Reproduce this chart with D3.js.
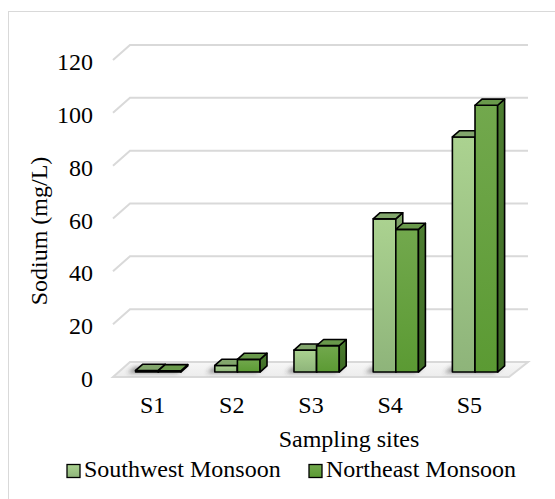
<!DOCTYPE html>
<html>
<head>
<meta charset="utf-8">
<script src="https://cdn.jsdelivr.net/npm/d3@7"></script>
</head>
<body style="margin:0">
<svg id="chart" width="555" height="499"></svg>
<script>
// Sodium concentration per sampling site, two monsoon seasons
const sites = ["S1", "S2", "S3", "S4", "S5"];
const seriesNames = ["Southwest Monsoon", "Northeast Monsoon"];
const southwest = [0.6, 2.5, 8.3, 58, 89];
const northeast = [0.5, 4.8, 10, 54, 101];
const yTicks = [0, 20, 40, 60, 80, 100, 120];
const seriesValues = [southwest, northeast];

const FONT = "'Liberation Serif', 'Times New Roman', serif";
const FS = 24;
const svg = d3.select("#chart").style("display", "block");

// serif text helper
function txt(sel) {
  return sel.style("font-family", FONT, "important").style("font-size", FS + "px").attr("fill", "#000");
}

// outer frame
svg.append("rect").attr("x", 8.5).attr("y", 11.5).attr("width", 560).attr("height", 500)
  .attr("fill", "#fff").attr("stroke", "#d9d9d9").attr("stroke-width", 1);

// oblique 3D geometry: floor front edge and depth vector
const floorFrontY = 377;
const depth = { dx: 17, dy: -15 };
const barDepthStart = 0.33, barDepthEnd = 0.74;

const x = d3.scaleBand().domain(sites).range([113, 509]).paddingInner(0).paddingOuter(0);
const xs = d3.scaleBand().domain(seriesNames).range([0, x.bandwidth()]).paddingInner(0).paddingOuter(0.75);
// value scale measured at the front plane of the floor
const y = d3.scaleLinear().domain([0, 120]).range([floorFrontY, floorFrontY - 317]);

const defs = svg.append("defs");
function vGrad(id, top, bottom) {
  const g = defs.append("linearGradient").attr("id", id).attr("x1", 0).attr("y1", 0).attr("x2", 0).attr("y2", 1);
  g.append("stop").attr("offset", "0%").attr("stop-color", top);
  g.append("stop").attr("offset", "100%").attr("stop-color", bottom);
}
vGrad("swFront", "#abd290", "#8eb47a");
vGrad("neFront", "#72a84d", "#5b9a33");
vGrad("swSide", "#7fa468", "#6a8e56");
vGrad("neSide", "#4c7d30", "#3d6a24");
vGrad("floorFill", "#f7f7f7", "#ececec");
const blur = defs.append("filter").attr("id", "shadowBlur").attr("x", "-50%").attr("y", "-50%").attr("width", "200%").attr("height", "200%");
blur.append("feGaussianBlur").attr("stdDeviation", 2.2);

const styles = [
  { front: "url(#swFront)", top: "#82a66c", side: "url(#swSide)", legend: "url(#swFront)" },
  { front: "url(#neFront)", top: "#69994b", side: "url(#neSide)", legend: "url(#neFront)" }
];

const xLeft = 113, xRight = 509;
const line = d3.line();

// gridlines: diagonal on the side wall, then along the back wall
const grid = svg.append("g");
yTicks.filter(t => t > 0).forEach(t => {
  const fy = y(t);
  grid.append("path")
    .attr("d", line([[xLeft, fy], [xLeft + depth.dx, fy + depth.dy], [xRight + depth.dx + 2, fy + depth.dy]]))
    .attr("fill", "none").attr("stroke", "#d9d9d9").attr("stroke-width", 2);
});

// floor
svg.append("path")
  .attr("d", line([[xLeft, y(0)], [xRight, y(0)], [xRight + depth.dx + 2, y(0) + depth.dy], [xLeft + depth.dx, y(0) + depth.dy]]) + "Z")
  .attr("fill", "url(#floorFill)").attr("stroke", "#d9d9d9").attr("stroke-width", 2);

// y tick labels
txt(svg.append("g").selectAll("text").data(yTicks).join("text")
  .attr("x", 93).attr("y", d => y(d) + 10)
  .attr("text-anchor", "end"))
  .text(d => d);

// bars
const ox0 = depth.dx * barDepthStart, oy0 = depth.dy * barDepthStart;
const bdx = depth.dx * (barDepthEnd - barDepthStart), bdy = depth.dy * (barDepthEnd - barDepthStart);

const barData = [];
sites.forEach((s, i) => {
  seriesNames.forEach((n, j) => barData.push({ site: s, series: n, si: j, value: seriesValues[j][i] }));
});

// soft shadows under the bars
const shadows = svg.append("g").attr("filter", "url(#shadowBlur)");
sites.forEach(s => {
  const x0 = x(s) + xs(seriesNames[0]) + ox0;
  const x1 = x(s) + xs(seriesNames[1]) + xs.bandwidth() + ox0;
  const yb = y(0) + oy0;
  shadows.append("path")
    .attr("d", line([[x0 - 8, yb + 1], [x1 - 4, yb + 1], [x1 + bdx - 2, yb + bdy + 1], [x0 + bdx - 8, yb + bdy + 1]]) + "Z")
    .attr("fill", "#404040").attr("opacity", 0.55);
});

const bars = svg.append("g");
barData.forEach(d => {
  const st = styles[d.si];
  const xl = x(d.site) + xs(d.series) + ox0;
  const xr = xl + xs.bandwidth();
  const yb = y(0) + oy0;
  const yt = y(d.value) + oy0;
  const g = bars.append("g").attr("stroke", "#000").attr("stroke-width", 1.6).attr("stroke-linejoin", "round");
  // front face
  g.append("path").attr("d", line([[xl, yb], [xr, yb], [xr, yt], [xl, yt]]) + "Z").attr("fill", st.front);
  // right side face
  g.append("path").attr("d", line([[xr, yb], [xr + bdx, yb + bdy], [xr + bdx, yt + bdy], [xr, yt]]) + "Z").attr("fill", st.side);
  // top face
  g.append("path").attr("d", line([[xl, yt], [xr, yt], [xr + bdx, yt + bdy], [xl + bdx, yt + bdy]]) + "Z").attr("fill", st.top);
});

// x category labels
txt(svg.append("g").selectAll("text").data(sites).join("text")
  .attr("x", d => x(d) + x.bandwidth() / 2).attr("y", 413)
  .attr("text-anchor", "middle"))
  .text(d => d);

// axis titles
txt(svg.append("text").attr("x", 349).attr("y", 447).attr("text-anchor", "middle")).text("Sampling sites");
txt(svg.append("text").attr("transform", "translate(47,231) rotate(-90)").attr("text-anchor", "middle")).text("Sodium (mg/L)");

// legend
const legendX = [67, 309];
const legend = svg.append("g");
seriesNames.forEach((n, j) => {
  legend.append("rect").attr("x", legendX[j]).attr("y", 464.5).attr("width", 13).attr("height", 13)
    .attr("fill", styles[j].legend).attr("stroke", "#000").attr("stroke-width", 1.3);
  txt(legend.append("text").attr("x", legendX[j] + 17).attr("y", 477)).text(n);
});
</script>
</body>
</html>
